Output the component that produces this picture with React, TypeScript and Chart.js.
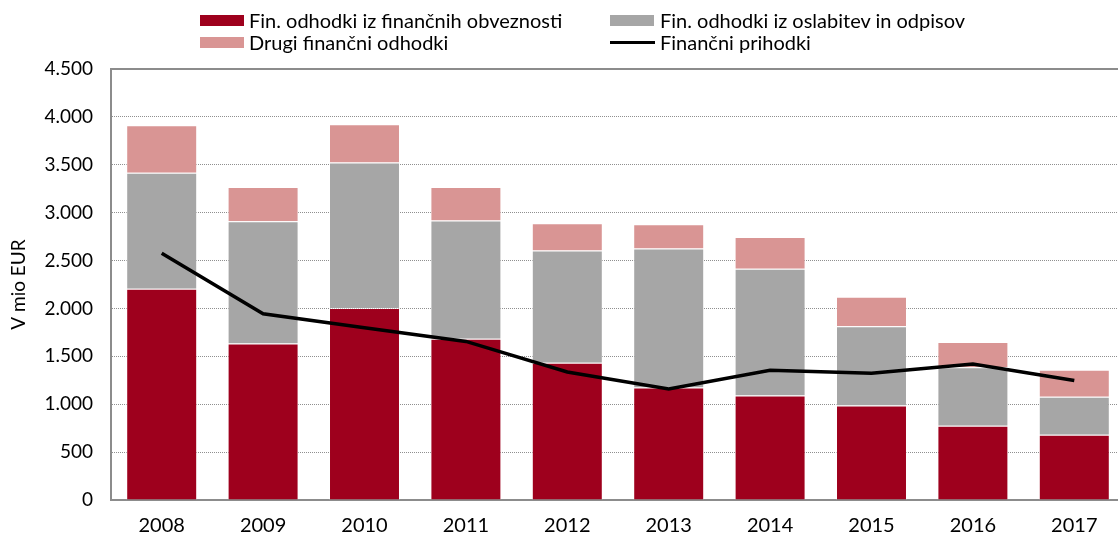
import React, { useEffect, useRef } from "react";
import { Chart, registerables } from "chart.js";

Chart.register(...registerables);

const categories = ["2008", "2009", "2010", "2011", "2012", "2013", "2014", "2015", "2016", "2017"];
const finObveznosti = [2205, 1635, 2004, 1684, 1434, 1174, 1091, 986, 775, 681];
const oslabitve = [1212, 1275, 1521, 1233, 1170, 1451, 1323, 827, 611, 396];
const drugi = [497, 358, 399, 351, 286, 254, 333, 309, 264, 284];
const prihodki = [2577, 1945, 1799, 1656, 1337, 1160, 1354, 1323, 1421, 1247];
const yTicks = [0, 500, 1000, 1500, 2000, 2500, 3000, 3500, 4000, 4500];

const FONT = "Lato, 'Open Sans', sans-serif";
const RED = "#9e001d";
const GRAY = "#a6a6a6";
const PINK = "#d99594";

function fmt(v: number): string {
  const s = String(Math.round(v));
  return s.replace(/\B(?=(\d{3})+(?!\d))/g, ".");
}

export default function App() {
  const ref = useRef<HTMLCanvasElement | null>(null);

  useEffect(() => {
    if (!ref.current) return;
    const barCommon = {
      borderColor: "rgba(255,255,255,0.55)",
      borderWidth: 1,
      barPercentage: 0.7,
      categoryPercentage: 1,
      order: 1,
    };
    const chart = new Chart(ref.current, {
      type: "bar",
      data: {
        labels: categories,
        datasets: [
          {
            type: "line",
            label: "Finančni prihodki",
            data: prihodki,
            borderColor: "#000",
            borderWidth: 3.5,
            pointRadius: 0,
            tension: 0,
            order: 0,
            yAxisID: "y",
            xAxisID: "x",
          } as any,
          {
            label: "Fin. odhodki iz finančnih obveznosti",
            data: finObveznosti,
            backgroundColor: RED,
            ...barCommon,
          },
          {
            label: "Fin. odhodki iz oslabitev in odpisov",
            data: oslabitve,
            backgroundColor: GRAY,
            ...barCommon,
          },
          {
            label: "Drugi finančni odhodki",
            data: drugi,
            backgroundColor: PINK,
            ...barCommon,
          },
        ],
      },
      options: {
        animation: false,
        responsive: false,
        maintainAspectRatio: false,
        layout: { padding: { top: 69, right: 5, left: 0, bottom: 0 } },
        plugins: { legend: { display: false }, tooltip: { enabled: false } },
        scales: {
          x: {
            stacked: true,
            grid: { display: false },
            border: { color: "#8c8c8c", width: 2 },
            ticks: { color: "#000", font: { family: FONT, size: 20 }, padding: 6 },
            afterFit: (s: any) => {
              s.height = 33;
            },
          },
          xTop: {
            type: "category",
            position: "top",
            grid: { display: false, drawTicks: false },
            border: { color: "#8c8c8c", width: 2 },
            ticks: { display: false },
            afterFit: (s: any) => {
              s.height = 0;
            },
          },
          y: {
            stacked: true,
            min: 0,
            max: 4500,
            afterBuildTicks: (s: any) => {
              s.ticks = yTicks.map((v) => ({ value: v }));
            },
            ticks: {
              color: "#000",
              font: { family: FONT, size: 19 },
              padding: 18,
              callback: (v: any) => fmt(Number(v)),
            },
            grid: { color: "#8f8f8f", lineWidth: 1, drawTicks: false },
            border: { color: "#8c8c8c", width: 2, dash: [1, 1] },
            title: {
              display: true,
              text: "V mio EUR",
              color: "#000",
              font: { family: FONT, size: 19 },
              padding: { top: 7, bottom: 0 },
            },
            afterFit: (s: any) => {
              s.width = 111;
            },
          },
        },
      } as any,
    });
    return () => chart.destroy();
  }, []);

  const legendText: React.CSSProperties = {
    position: "absolute",
    fontFamily: FONT,
    fontSize: 20,
    color: "#000",
    lineHeight: "22px",
    whiteSpace: "nowrap",
  };
  const box = (left: number, top: number, color: string): React.CSSProperties => ({
    position: "absolute",
    left,
    top,
    width: 44,
    height: 11,
    background: color,
  });

  return (
    <div
      style={{
        position: "fixed",
        left: 0,
        top: 0,
        width: 1118,
        height: 533,
        overflow: "hidden",
        background: "#fff",
      }}
    >
      <canvas ref={ref} width={1130} height={533} style={{ position: "absolute", left: 0, top: 0 }} />
      <div style={box(200, 15, RED)} />
      <div style={{ ...legendText, left: 249, top: 9 }}>Fin. odhodki iz finančnih obveznosti</div>
      <div style={box(610, 15, GRAY)} />
      <div style={{ ...legendText, left: 660, top: 9 }}>Fin. odhodki iz oslabitev in odpisov</div>
      <div style={box(200, 37, PINK)} />
      <div style={{ ...legendText, left: 249, top: 31 }}>Drugi finančni odhodki</div>
      <div
        style={{
          position: "absolute",
          left: 610,
          top: 41,
          width: 45,
          height: 3,
          background: "#000",
        }}
      />
      <div style={{ ...legendText, left: 660, top: 31 }}>Finančni prihodki</div>
    </div>
  );
}
